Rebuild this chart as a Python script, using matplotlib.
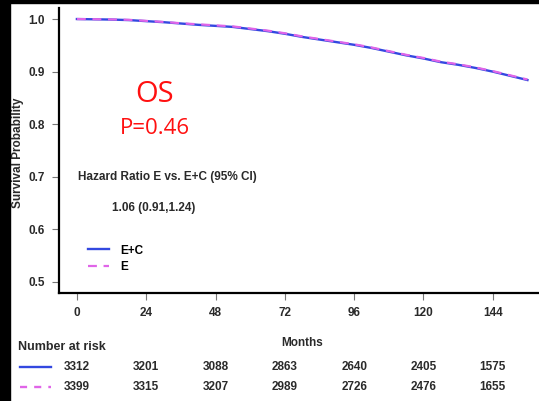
import matplotlib
matplotlib.use('Agg')
import matplotlib.pyplot as plt
import matplotlib.transforms as mtransforms
from matplotlib.lines import Line2D
from matplotlib.patches import Rectangle

months = [0, 6, 12, 18, 24, 30, 36, 42, 48, 54, 60, 66, 72, 78, 84, 90,
          96, 102, 108, 114, 120, 126, 132, 138, 144, 150, 156]
surv_ec = [1.000, 0.9995, 0.999, 0.998, 0.996, 0.994, 0.9915, 0.989, 0.987,
           0.985, 0.981, 0.977, 0.972, 0.966, 0.961, 0.956, 0.951, 0.945,
           0.938, 0.931, 0.925, 0.918, 0.913, 0.907, 0.900, 0.892, 0.884]
surv_e = [1.000, 0.9997, 0.9993, 0.9985, 0.9965, 0.9945, 0.992, 0.990, 0.988,
          0.986, 0.982, 0.978, 0.973, 0.967, 0.962, 0.957, 0.952, 0.946,
          0.939, 0.932, 0.926, 0.919, 0.914, 0.908, 0.901, 0.893, 0.885]
risk_months = [0, 24, 48, 72, 96, 120, 144]
risk_ec = [3312, 3201, 3088, 2863, 2640, 2405, 1575]
risk_e = [3399, 3315, 3207, 2989, 2726, 2476, 1655]

blue = '#3348e0'
pink = '#e065e8'
txt = '#2a2a2a'
fs = 8.5
plt.rcParams['font.family'] = ['Liberation Sans', 'DejaVu Sans']

fig = plt.figure(figsize=(5.39, 4.01), dpi=100)
fig.patches.append(Rectangle((0, 0), 10 / 539, 1, transform=fig.transFigure,
                             color='black', zorder=-1))
fig.patches.append(Rectangle((0, 398 / 401), 1, 3 / 401, transform=fig.transFigure,
                             color='black', zorder=-1))

ax = fig.add_axes([59 / 539, 108 / 401, 480 / 539, 285 / 401])
ax.plot(months, surv_ec, color=blue, lw=1.7, label='E+C')
ax.plot(months, surv_e, color=pink, lw=1.6, ls=(0, (4, 3)), label='E')
ax.set_xlim(-6.2, 160)
ax.set_ylim(0.479, 1.021)
ax.set_xticks(risk_months)
ax.set_yticks([0.5, 0.6, 0.7, 0.8, 0.9, 1.0])
ax.set_yticklabels(['0.5', '0.6', '0.7', '0.8', '0.9', '1.0'])
for s in ['top', 'right']:
    ax.spines[s].set_visible(False)
for s in ['left', 'bottom']:
    ax.spines[s].set_linewidth(1.6)
ax.tick_params(length=5, width=0.8, color='#777777', labelsize=fs, labelcolor=txt, pad=5)
for lab in ax.get_xticklabels() + ax.get_yticklabels():
    lab.set_fontweight('bold')

ax.set_xlabel('Months', fontsize=fs, fontweight='bold', color=txt)
ax.xaxis.set_label_coords((302 - 59) / 480, -44 / 285)
fig.text(18 / 539, 1 - 153 / 401, 'Survival Probability', rotation=90,
         fontsize=fs, fontweight='bold', color=txt, ha='center', va='center')

fig.text(155 / 539, 1 - 94 / 401, 'OS', color='#ff1010', fontsize=21,
         family=['Open Sans', 'DejaVu Sans'], ha='center', va='center')
fig.text(155 / 539, 1 - 128 / 401, 'P=0.46', color='#ff1010', fontsize=16,
         family=['Open Sans', 'DejaVu Sans'], ha='center', va='center')
fig.text(78 / 539, 1 - 177 / 401, 'Hazard Ratio E vs. E+C (95% CI)', fontsize=fs,
         fontweight='bold', color=txt, ha='left', va='center')
fig.text(112 / 539, 1 - 208 / 401, '1.06 (0.91,1.24)', fontsize=fs,
         fontweight='bold', color=txt, ha='left', va='center')

ax.legend(loc='upper left', bbox_to_anchor=(18 / 480, 1 - 234 / 285 + 8 / 285),
          frameon=False, handlelength=1.85, handletextpad=0.9,
          labelspacing=0.35, prop={'weight': 'bold', 'size': fs})

fig.text(18 / 539, 1 - 347 / 401, 'Number at risk', fontsize=fs + 0.5,
         fontweight='bold', color=txt, ha='left', va='center')
trans = mtransforms.blended_transform_factory(ax.transData, fig.transFigure)
for vals, y, col, ls in [(risk_ec, 367, blue, '-'), (risk_e, 387, pink, (0, (3, 3)))]:
    fig.lines.append(Line2D([20 / 539, 51 / 539], [1 - y / 401] * 2, color=col, lw=1.7,
                            ls=ls, transform=fig.transFigure))
    for m, v in zip(risk_months, vals):
        fig.text(m, 1 - y / 401, str(v), transform=trans, fontsize=fs,
                 fontweight='bold', color=txt, ha='center', va='center')

fig.savefig('out.png', dpi=100)
plt.close()
